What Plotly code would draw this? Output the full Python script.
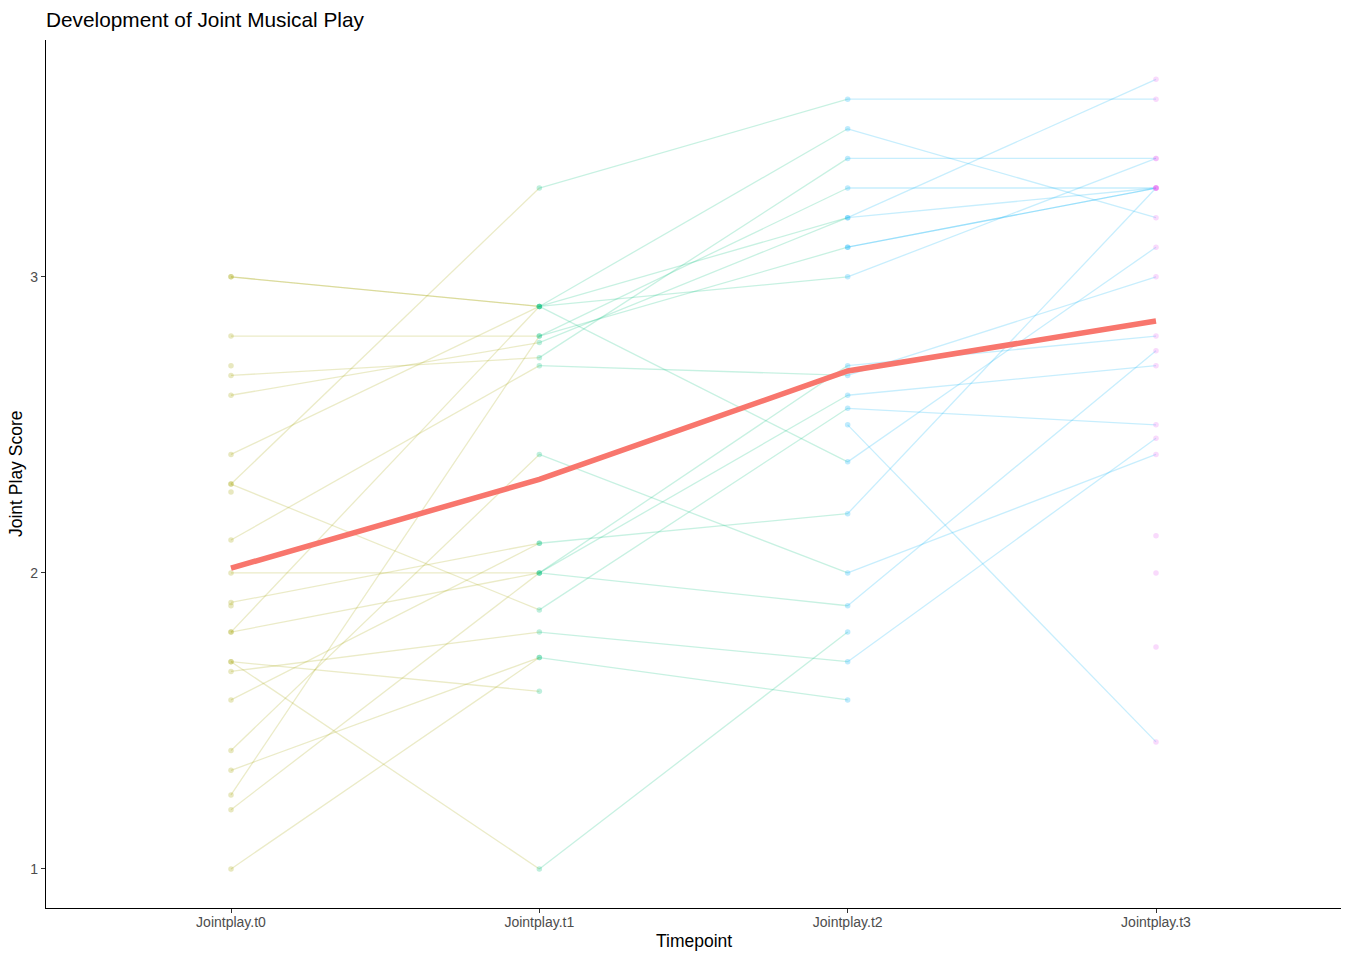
import plotly.graph_objects as go

# ---- data ----
timepoints = ["Jointplay.t0", "Jointplay.t1", "Jointplay.t2", "Jointplay.t3"]

# one entry per participant, aligned across timepoints (None = not observed)
t0 = [3.0, 3.0, 2.8, 2.7, 2.667, 2.6, 2.4, 2.3, 2.3, 2.273, 2.111, 2.0, 1.9, 1.889, 1.8,
      1.8, 1.7, 1.7, 1.667, 1.571, 1.4, 1.333, 1.25, 1.2, 1.0, None, None, None, None, None]
t1 = [2.9, 2.9, 2.8, None, 2.727, 2.778, 2.9, 3.3, 1.875, None, 2.7, 2.0, 2.1, None, 2.9,
      2.0, 1.6, 1.0, 1.8, 2.1, 2.4, 1.714, 2.8, 2.0, 1.714, None, None, None, None, None]
t2 = [3.5, 3.2, 3.3, None, 3.4, 3.2, 3.0, 3.6, 2.556, None, 2.667, 2.7, 2.2, None, 2.375,
      2.6, None, 1.8, 1.7, None, 2.0, 1.571, 3.1, 1.889, None, 3.1, 2.5, None, None, None]
t3 = [3.2, 3.667, 3.3, None, 3.4, 3.3, 3.4, 3.6, 2.5, None, 3.0, 2.8, 3.3, None, 3.1,
      2.7, None, None, 2.455, None, 2.4, None, 3.3, 2.75, None, 3.3, 1.429, 2.125, 2.0, 1.75]

mean_score = [2.016, 2.316, 2.682, 2.851]

series = [t0, t1, t2, t3]
point_rgb = ["163,165,0", "0,191,125", "0,176,246", "231,107,243"]
mean_color = "#F8766D"

FONT = "Liberation Sans, Arial, Helvetica, sans-serif"

fig = go.Figure()

# individual trajectories: each segment coloured by its starting timepoint
for k in range(3):
    for va, vb in zip(series[k], series[k + 1]):
        if va is not None and vb is not None:
            fig.add_trace(go.Scatter(
                x=[k, k + 1], y=[va, vb], mode="lines",
                line=dict(color=f"rgba({point_rgb[k]},0.22)", width=1.3),
                hoverinfo="skip", showlegend=False))

# points
for k in range(4):
    ys = [v for v in series[k] if v is not None]
    fig.add_trace(go.Scatter(
        x=[k] * len(ys), y=ys, mode="markers",
        marker=dict(color=f"rgba({point_rgb[k]},0.25)", size=5.5, line=dict(width=0)),
        hoverinfo="skip", showlegend=False))

# mean trajectory
fig.add_trace(go.Scatter(
    x=list(range(4)), y=mean_score, mode="lines",
    line=dict(color=mean_color, width=5.5),
    hoverinfo="skip", showlegend=False))

axis_common = dict(
    showgrid=False, zeroline=False, showline=True, linecolor="black", linewidth=1.1,
    ticks="outside", ticklen=4, tickwidth=1, tickcolor="#333333",
    tickfont=dict(family=FONT, size=14, color="#4D4D4D"),
)

fig.update_layout(
    width=1346, height=956,
    paper_bgcolor="white", plot_bgcolor="white",
    margin=dict(l=46, r=5, t=40, b=48),
    showlegend=False,
    title=dict(text="Development of Joint Musical Play", x=46 / 1346, xanchor="left",
               xref="container", y=1 - 20 / 956, yanchor="middle", yref="container",
               font=dict(family=FONT, size=20.8, color="black")),
    xaxis=dict(range=[-0.6, 3.6], tickmode="array", tickvals=[0, 1, 2, 3],
               ticktext=timepoints, ticklabelstandoff=-3, **axis_common),
    yaxis=dict(range=[0.868, 3.80], tickmode="array", tickvals=[1, 2, 3],
               ticktext=["1", "2", "3"], **axis_common),
    annotations=[
        dict(text="Timepoint", xref="paper", yref="paper", x=0.5, y=0,
             yshift=-33, yanchor="middle", showarrow=False,
             font=dict(family=FONT, size=17.5, color="black")),
        dict(text="Joint Play Score", xref="paper", yref="paper", x=0, y=0.5,
             xshift=-30, xanchor="center", textangle=-90, showarrow=False,
             font=dict(family=FONT, size=17.5, color="black")),
    ],
)

fig.write_html(
    "out.html",
    config={"displayModeBar": False},
    post_script="document.body.style.margin='0';document.body.style.overflow='hidden';",
)
